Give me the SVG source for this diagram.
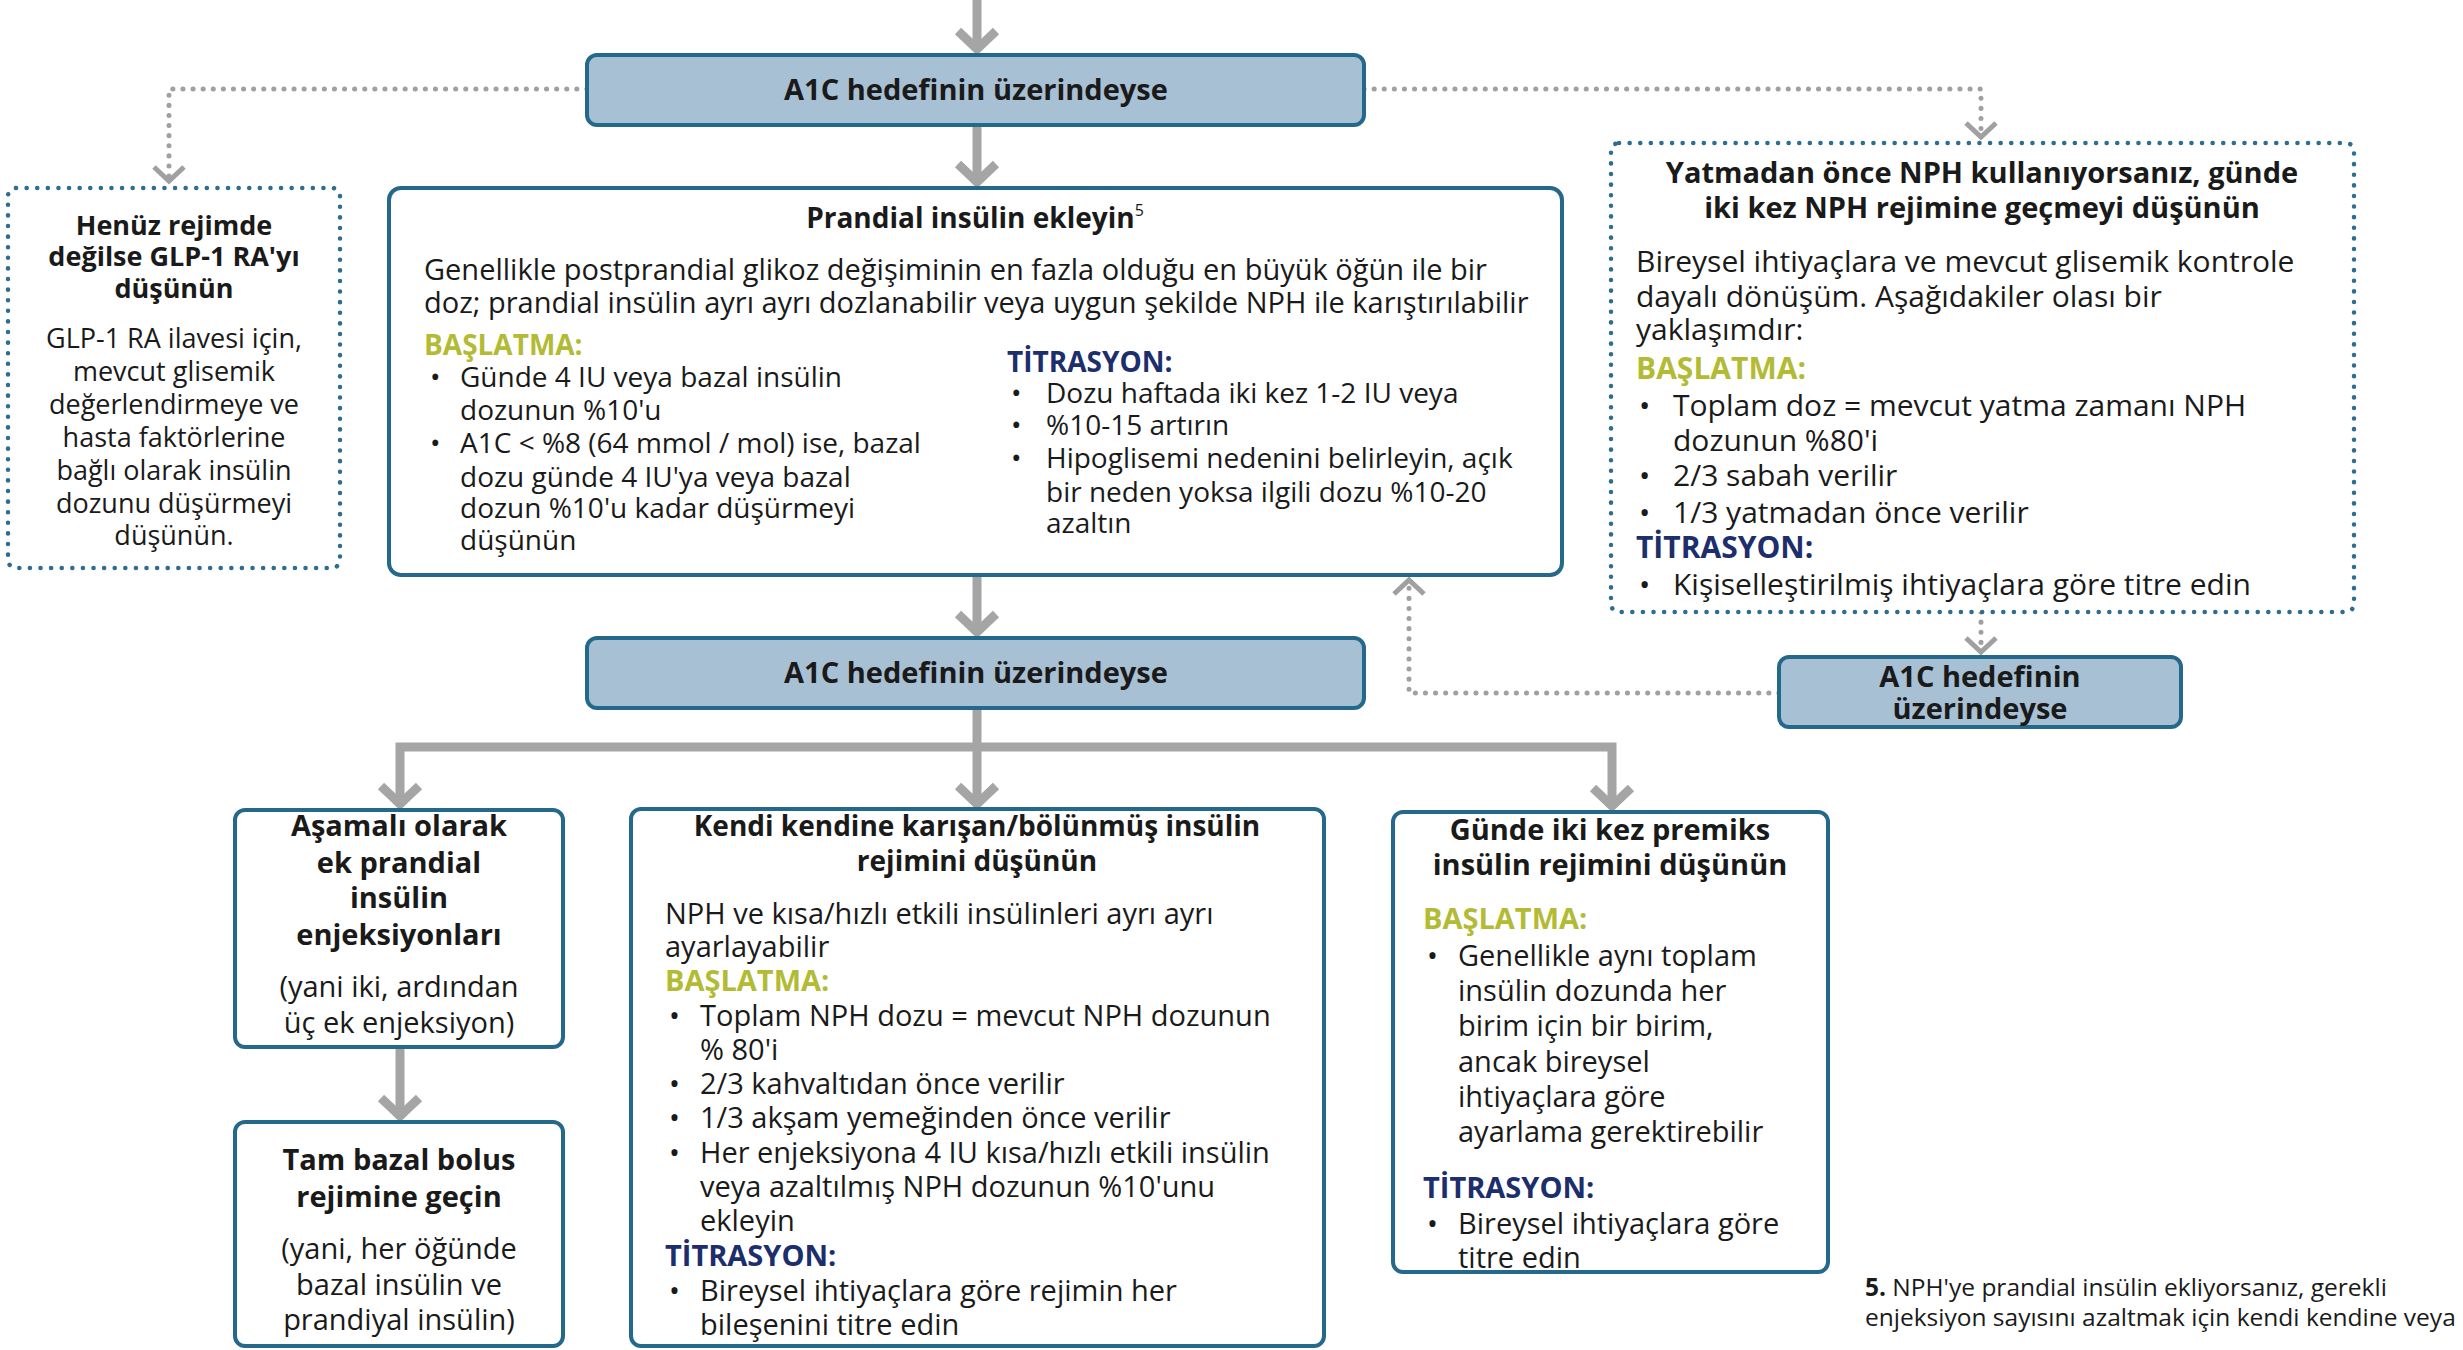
<svg xmlns="http://www.w3.org/2000/svg" width="2463" height="1350" viewBox="0 0 2463 1350">
<defs>
<style>
.box{fill:#fff;stroke:#24698b;stroke-width:4}
.a1c{fill:#a7c0d4;stroke:#24698b;stroke-width:4}
.dbox{fill:#fff;stroke:#2d6d90;stroke-width:4.5;stroke-dasharray:0.1 10.5;stroke-linecap:round}
.arr{fill:none;stroke:#a5a5a5;stroke-width:9;stroke-linejoin:miter;marker-end:url(#ch)}
.dot{fill:none;stroke:#a0a0a0;stroke-width:5;stroke-dasharray:0.1 10;stroke-linecap:round;marker-end:url(#chd)}
text{font-family:"Open Sans","Noto Sans","Liberation Sans",sans-serif;fill:#1a1a1a;font-size:28px}
.b{font-weight:700}
.m{text-anchor:middle}
.g{fill:#b3bb35;font-weight:700}
.n{fill:#1c2e6c;font-weight:700}
.s27{font-size:27px}
.s29{font-size:29px}
.s30{font-size:30px}
.fn{font-size:24.5px}
</style>
<marker id="ch" markerUnits="userSpaceOnUse" viewBox="-30 -30 45 60" refX="0" refY="0" markerWidth="45" markerHeight="60" orient="auto" overflow="visible">
<path d="M-18,-19 L0,0 L-18,19" fill="none" stroke="#a5a5a5" stroke-width="9"/>
</marker>
<marker id="chd" markerUnits="userSpaceOnUse" viewBox="-25 -25 35 50" refX="0" refY="0" markerWidth="35" markerHeight="50" orient="auto" overflow="visible">
<path d="M-14,-15 L0,0 L-14,15" fill="none" stroke="#a0a0a0" stroke-width="5"/>
</marker>
</defs>

<g id="connectors">
<path class="arr" d="M977,0 V49"/>
<path class="arr" d="M977,125 V182"/>
<path class="arr" d="M977,575 V632"/>
<path class="arr" d="M977,708 V804"/>
<path class="arr" d="M977,747 H400 V804"/>
<path class="arr" d="M977,747 H1612 V806"/>
<path class="arr" d="M400,1047 V1116"/>
<path class="dot" d="M587,89 H169 V181"/>
<path class="dot" d="M1364,89 H1981 V137"/>
<path class="dot" d="M1981,612 V652"/>
<path class="dot" d="M1779,693 H1409 V580"/>
</g>

<g id="n-a1c-top">
<rect class="a1c" x="587" y="55" width="777" height="70" rx="10"/>
<text class="b m s29" x="976" y="100">A1C hedefinin üzerindeyse</text>
</g>

<g id="n-glp1">
<rect class="dbox" x="8" y="188" width="332" height="380" rx="8"/>
<text class="b m s27" x="174" y="235">Henüz rejimde</text>
<text class="b m s27" x="174" y="266">değilse GLP-1 RA'yı</text>
<text class="b m s27" x="174" y="298">düşünün</text>
<text class="m s27" x="174" y="348">GLP-1 RA ilavesi için,</text>
<text class="m s27" x="174" y="381">mevcut glisemik</text>
<text class="m s27" x="174" y="414">değerlendirmeye ve</text>
<text class="m s27" x="174" y="447">hasta faktörlerine</text>
<text class="m s27" x="174" y="480">bağlı olarak insülin</text>
<text class="m s27" x="174" y="513">dozunu düşürmeyi</text>
<text class="m s27" x="174" y="545">düşünün.</text>
</g>

<g id="n-prandial">
<rect class="box" x="389" y="188" width="1173" height="387" rx="12"/>
<text class="b m" x="975" y="228">Prandial insülin ekleyin<tspan font-size="16" font-weight="400" dy="-12">5</tspan></text>
<text class="s29" x="424" y="280">Genellikle postprandial glikoz değişiminin en fazla olduğu en büyük öğün ile bir</text>
<text class="s29" x="424" y="313">doz; prandial insülin ayrı ayrı dozlanabilir veya uygun şekilde NPH ile karıştırılabilir</text>
<text class="g" x="424" y="355">BAŞLATMA:</text>
<text x="430" y="387">•</text><text x="460" y="387">Günde 4 IU veya bazal insülin</text>
<text x="460" y="420">dozunun %10'u</text>
<text x="430" y="453">•</text><text x="460" y="453">A1C &lt; %8 (64 mmol / mol) ise, bazal</text>
<text x="460" y="487">dozu günde 4 IU'ya veya bazal</text>
<text x="460" y="518">dozun %10'u kadar düşürmeyi</text>
<text x="460" y="550">düşünün</text>
<text class="n" x="1007" y="372">TİTRASYON:</text>
<text x="1011" y="403">•</text><text x="1046" y="403">Dozu haftada iki kez 1-2 IU veya</text>
<text x="1011" y="435">•</text><text x="1046" y="435">%10-15 artırın</text>
<text x="1011" y="468">•</text><text x="1046" y="468">Hipoglisemi nedenini belirleyin, açık</text>
<text x="1046" y="502">bir neden yoksa ilgili dozu %10-20</text>
<text x="1046" y="533">azaltın</text>
</g>

<g id="n-nph">
<rect class="dbox" x="1611" y="143" width="743" height="469" rx="8"/>
<text class="b m s29" x="1982" y="183">Yatmadan önce NPH kullanıyorsanız, günde</text>
<text class="b m s29" x="1982" y="218">iki kez NPH rejimine geçmeyi düşünün</text>
<text class="s30" x="1636" y="272">Bireysel ihtiyaçlara ve mevcut glisemik kontrole</text>
<text class="s30" x="1636" y="307">dayalı dönüşüm. Aşağıdakiler olası bir</text>
<text class="s30" x="1636" y="340">yaklaşımdır:</text>
<text class="g s30" x="1636" y="379">BAŞLATMA:</text>
<text class="s30" x="1639" y="416">•</text><text class="s30" x="1673" y="416">Toplam doz = mevcut yatma zamanı NPH</text>
<text class="s30" x="1673" y="451">dozunun %80'i</text>
<text class="s30" x="1639" y="486">•</text><text class="s30" x="1673" y="486">2/3 sabah verilir</text>
<text class="s30" x="1639" y="523">•</text><text class="s30" x="1673" y="523">1/3 yatmadan önce verilir</text>
<text class="n s30" x="1636" y="558">TİTRASYON:</text>
<text class="s30" x="1639" y="595">•</text><text class="s30" x="1673" y="595">Kişiselleştirilmiş ihtiyaçlara göre titre edin</text>
</g>

<g id="n-a1c-mid">
<rect class="a1c" x="587" y="638" width="777" height="70" rx="10"/>
<text class="b m s29" x="976" y="683">A1C hedefinin üzerindeyse</text>
</g>

<g id="n-a1c-right">
<rect class="a1c" x="1779" y="657" width="402" height="70" rx="10"/>
<text class="b m s29" x="1980" y="687">A1C hedefinin</text>
<text class="b m s29" x="1980" y="719">üzerindeyse</text>
</g>

<g id="n-asamali">
<rect class="box" x="235" y="810" width="328" height="237" rx="10"/>
<text class="b m s29" x="399" y="836">Aşamalı olarak</text>
<text class="b m s29" x="399" y="873">ek prandial</text>
<text class="b m s29" x="399" y="908">insülin</text>
<text class="b m s29" x="399" y="945">enjeksiyonları</text>
<text class="m s29" x="399" y="997">(yani iki, ardından</text>
<text class="m s29" x="399" y="1033">üç ek enjeksiyon)</text>
</g>

<g id="n-tambazal">
<rect class="box" x="235" y="1122" width="328" height="224" rx="10"/>
<text class="b m s29" x="399" y="1170">Tam bazal bolus</text>
<text class="b m s29" x="399" y="1207">rejimine geçin</text>
<text class="m s29" x="399" y="1259">(yani, her öğünde</text>
<text class="m s29" x="399" y="1295">bazal insülin ve</text>
<text class="m s29" x="399" y="1330">prandiyal insülin)</text>
</g>

<g id="n-kendi">
<rect class="box" x="631" y="809" width="693" height="537" rx="10"/>
<text class="b m" x="977" y="836">Kendi kendine karışan/bölünmüş insülin</text>
<text class="b m" x="977" y="871">rejimini düşünün</text>
<text class="s29" x="665" y="924">NPH ve kısa/hızlı etkili insülinleri ayrı ayrı</text>
<text class="s29" x="665" y="957">ayarlayabilir</text>
<text class="g s29" x="665" y="991">BAŞLATMA:</text>
<text class="s29" x="669" y="1026">•</text><text class="s29" x="700" y="1026">Toplam NPH dozu = mevcut NPH dozunun</text>
<text class="s29" x="700" y="1060">% 80'i</text>
<text class="s29" x="669" y="1094">•</text><text class="s29" x="700" y="1094">2/3 kahvaltıdan önce verilir</text>
<text class="s29" x="669" y="1128">•</text><text class="s29" x="700" y="1128">1/3 akşam yemeğinden önce verilir</text>
<text class="s29" x="669" y="1163">•</text><text class="s29" x="700" y="1163">Her enjeksiyona 4 IU kısa/hızlı etkili insülin</text>
<text class="s29" x="700" y="1197">veya azaltılmış NPH dozunun %10'unu</text>
<text class="s29" x="700" y="1231">ekleyin</text>
<text class="n s29" x="665" y="1266">TİTRASYON:</text>
<text class="s29" x="669" y="1301">•</text><text class="s29" x="700" y="1301">Bireysel ihtiyaçlara göre rejimin her</text>
<text class="s29" x="700" y="1335">bileşenini titre edin</text>
</g>

<g id="n-premiks">
<rect class="box" x="1393" y="812" width="435" height="460" rx="10"/>
<text class="b m s29" x="1610" y="840">Günde iki kez premiks</text>
<text class="b m s29" x="1610" y="875">insülin rejimini düşünün</text>
<text class="g s29" x="1423" y="929">BAŞLATMA:</text>
<text class="s29" x="1427" y="966">•</text><text class="s29" x="1458" y="966">Genellikle aynı toplam</text>
<text class="s29" x="1458" y="1001">insülin dozunda her</text>
<text class="s29" x="1458" y="1036">birim için bir birim,</text>
<text class="s29" x="1458" y="1072">ancak bireysel</text>
<text class="s29" x="1458" y="1107">ihtiyaçlara göre</text>
<text class="s29" x="1458" y="1142">ayarlama gerektirebilir</text>
<text class="n s29" x="1423" y="1198">TİTRASYON:</text>
<text class="s29" x="1427" y="1234">•</text><text class="s29" x="1458" y="1234">Bireysel ihtiyaçlara göre</text>
<text class="s29" x="1458" y="1268">titre edin</text>
</g>

<g id="footnote">
<text class="fn" x="1865" y="1296"><tspan font-weight="700">5.</tspan> NPH'ye prandial insülin ekliyorsanız, gerekli</text>
<text class="fn" x="1865" y="1326">enjeksiyon sayısını azaltmak için kendi kendine veya</text>
</g>
</svg>
